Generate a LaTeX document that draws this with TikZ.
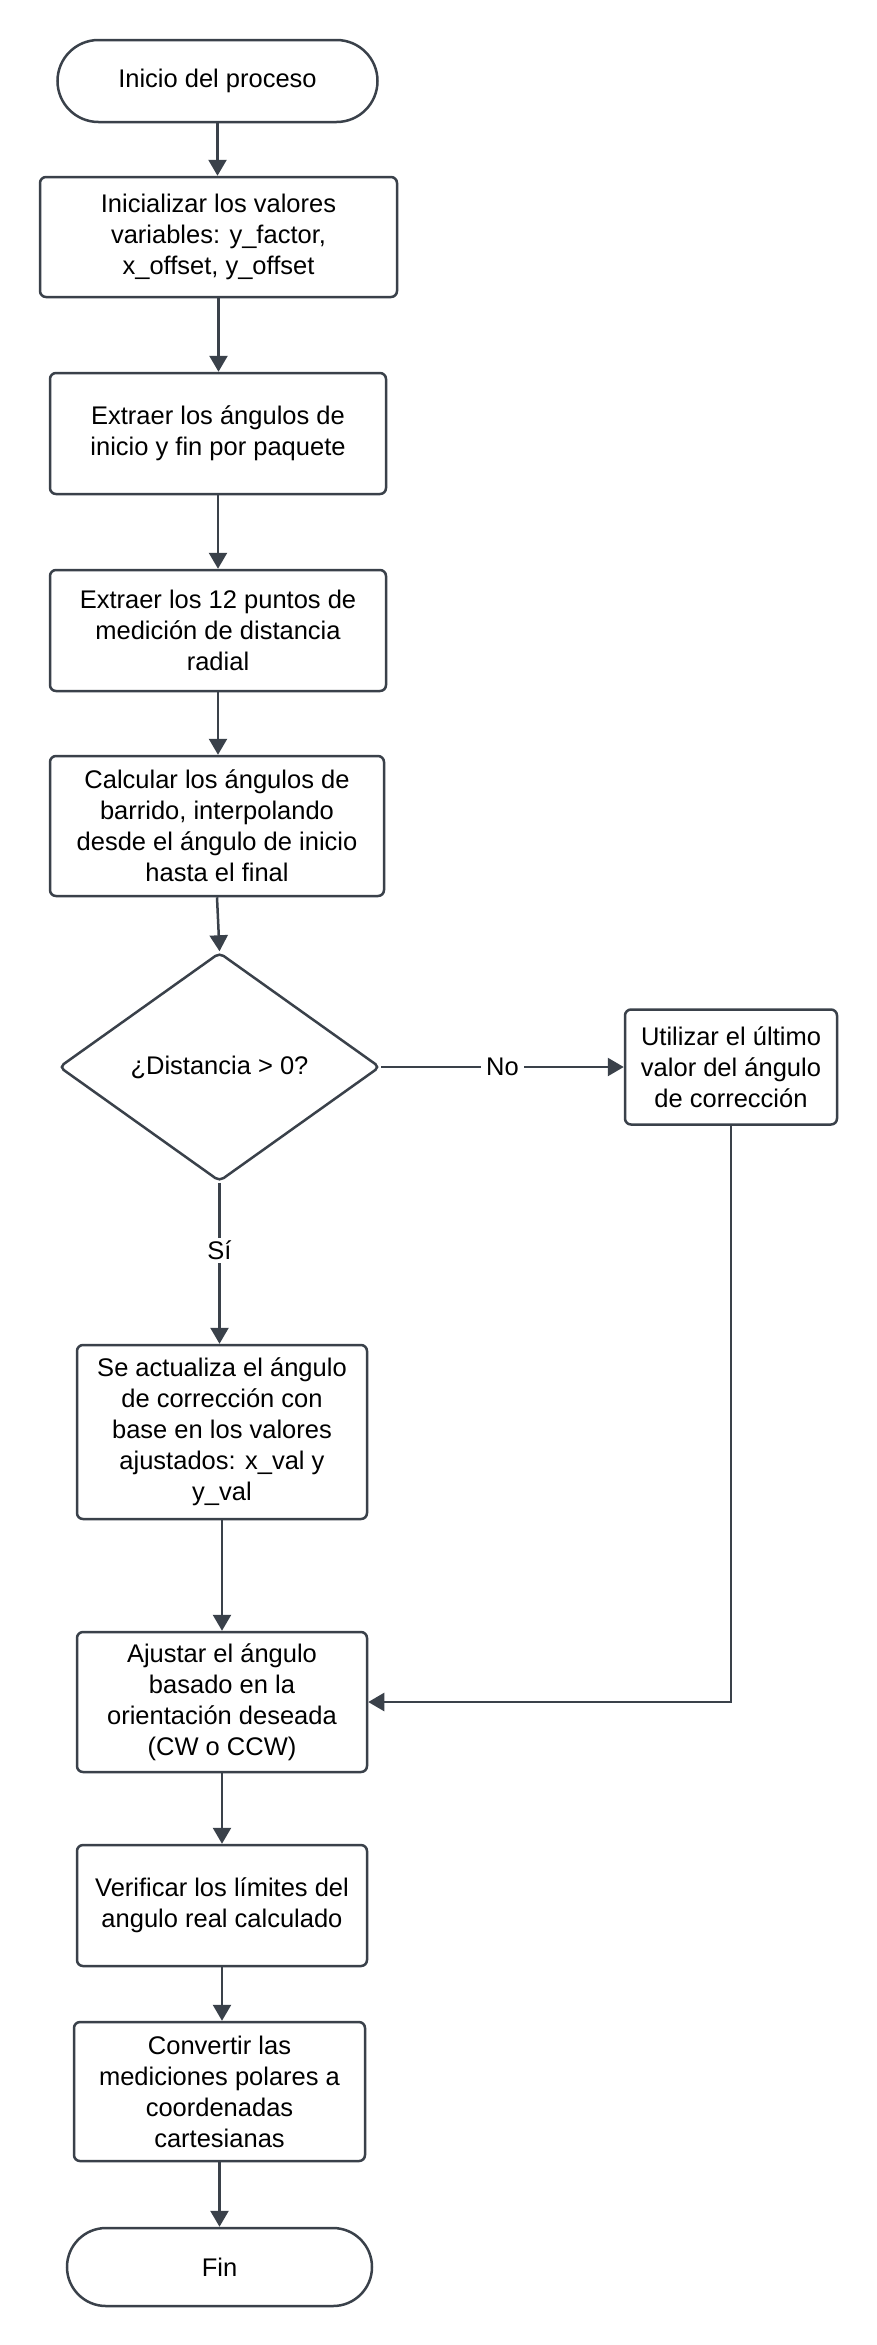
\documentclass[tikz,border=0pt]{standalone}
\usepackage{fontspec}
\setmainfont{Liberation Sans}
\usetikzlibrary{arrows.meta,shapes.geometric}
\definecolor{ln}{HTML}{3A414A}
\begin{document}
\begin{tikzpicture}[x=1pt,y=-1pt,
  every node/.style={font=\fontsize{25.5}{31}\selectfont, text=black, align=center},
  box/.style={draw=ln, line width=2.5pt, rounded corners=6pt, inner sep=0pt},
  term/.style={draw=ln, line width=2.5pt, inner sep=0pt},
  dec/.style={diamond, draw=ln, line width=2.5pt, inner sep=0pt, rounded corners=5pt},
  arr/.style={draw=ln, line width=2.5pt, -{Triangle[length=16pt,width=18pt]}},
  lab/.style={fill=white, inner xsep=5pt, inner ysep=3pt}]
\useasboundingbox[fill=white] (0,0) rectangle (877,2345);
\node[term, minimum width=320pt, minimum height=82pt, rounded corners=41pt] (start) at (217.5,81) {Inicio del proceso};
\node[box, minimum width=357pt, minimum height=120pt] (b2) at (218.5,237) {Inicializar los valores\\variables: y\_factor,\\x\_offset, y\_offset};
\node[box, minimum width=336pt, minimum height=121pt] (b3) at (218,433.5) {Extraer los ángulos de\\inicio y fin por paquete};
\node[box, minimum width=336pt, minimum height=121pt] (b4) at (218,630.5) {Extraer los 12 puntos de\\medición de distancia\\radial};
\node[box, minimum width=334pt, minimum height=140pt] (b5) at (217,826) {Calcular los ángulos de\\barrido, interpolando\\desde el ángulo de inicio\\hasta el final};
\node[dec, minimum width=321pt, minimum height=229pt] (dec) at (219.5,1067) {¿Distancia > 0?};
\node[box, minimum width=212pt, minimum height=115pt] (rb) at (731,1067) {Utilizar el último\\valor del ángulo\\de corrección};
\node[box, minimum width=290pt, minimum height=174pt] (b6) at (222,1432) {Se actualiza el ángulo\\de corrección con\\base en los valores\\ajustados: x\_val y\\y\_val};
\node[box, minimum width=290pt, minimum height=140pt] (b7) at (222,1702) {Ajustar el ángulo\\basado en la\\orientación deseada\\(CW o CCW)};
\node[box, minimum width=290pt, minimum height=121pt] (b8) at (222,1905.5) {Verificar los límites del\\angulo real calculado};
\node[box, minimum width=291pt, minimum height=139pt] (b9) at (219.5,2091.5) {Convertir las\\mediciones polares a\\coordenadas\\cartesianas};
\node[term, minimum width=305pt, minimum height=78pt, rounded corners=39pt] (fin) at (219.5,2267) {Fin};

\draw[arr] (start.south) -- (start.south |- b2.north);
\draw[arr] (b2.south) -- (b2.south |- b3.north);
\draw[arr] (b3.south) -- (b3.south |- b4.north);
\draw[arr] (b4.south) -- (b4.south |- b5.north);
\draw[arr] (b5.south) -- (dec.north);
\draw[arr] (dec.east) -- node[lab]{No} (rb.west);
\draw[arr] (dec.south) -- node[lab, pos=0.42]{Sí} (dec.south |- b6.north);
\draw[arr] (b6.south) -- (b6.south |- b7.north);
\draw[arr] (rb.south) |- (b7.east);
\draw[arr] (b7.south) -- (b7.south |- b8.north);
\draw[arr] (b8.south) -- (b8.south |- b9.north);
\draw[arr] (b9.south) -- (b9.south |- fin.north);
\end{tikzpicture}
\end{document}
